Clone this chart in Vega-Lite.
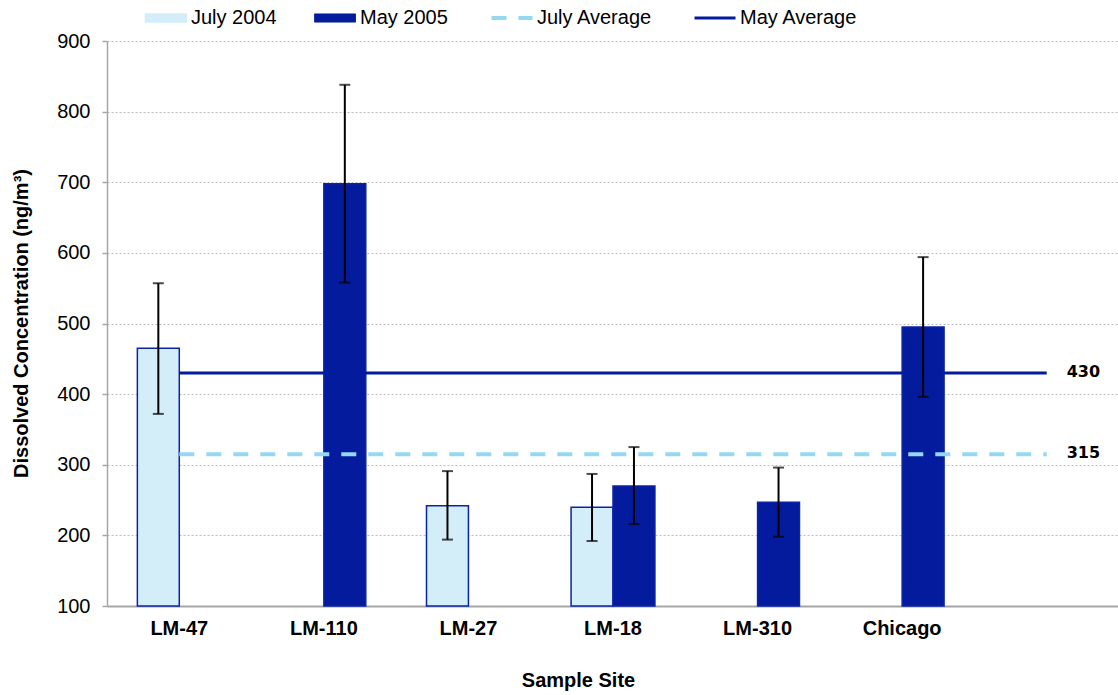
{
  "$schema": "https://vega.github.io/schema/vega-lite/v6.json",
  "width": 1012,
  "height": 565,
  "autosize": {"type": "none"},
  "padding": {"left": 107, "top": 41, "right": 0, "bottom": 89},
  "background": "white",
  "config": {
    "view": {"stroke": null},
    "font": "Liberation Sans",
    "axis": {"labelColor": "black", "titleColor": "black", "labelFontSize": 20, "titleFontSize": 20, "titleFont": "Liberation Sans", "labelFont": "Liberation Sans"}
  },
  "datasets": {
    "bars": [
      {"site": "LM-47", "series": "July 2004", "value": 465, "lo": 372, "hi": 557},
      {"site": "LM-110", "series": "May 2005", "value": 698, "lo": 558, "hi": 838},
      {"site": "LM-27", "series": "July 2004", "value": 242, "lo": 194, "hi": 291},
      {"site": "LM-18", "series": "July 2004", "value": 240, "lo": 192, "hi": 287},
      {"site": "LM-18", "series": "May 2005", "value": 270, "lo": 216, "hi": 325},
      {"site": "LM-310", "series": "May 2005", "value": 247, "lo": 198, "hi": 296},
      {"site": "Chicago", "series": "May 2005", "value": 495, "lo": 396, "hi": 594}
    ],
    "avg": [
      {"site": "LM-47", "series": "July Average", "value": 315},
      {"site": "LM-110", "series": "July Average", "value": 315},
      {"site": "LM-27", "series": "July Average", "value": 315},
      {"site": "LM-18", "series": "July Average", "value": 315},
      {"site": "LM-310", "series": "July Average", "value": 315},
      {"site": "Chicago", "series": "July Average", "value": 315},
      {"site": " ", "series": "July Average", "value": 315},
      {"site": "LM-47", "series": "May Average", "value": 430},
      {"site": "LM-110", "series": "May Average", "value": 430},
      {"site": "LM-27", "series": "May Average", "value": 430},
      {"site": "LM-18", "series": "May Average", "value": 430},
      {"site": "LM-310", "series": "May Average", "value": 430},
      {"site": "Chicago", "series": "May Average", "value": 430},
      {"site": " ", "series": "May Average", "value": 430}
    ],
    "labels": [
      {"site": " ", "series": "May Average", "value": 430, "label": "430"},
      {"site": " ", "series": "July Average", "value": 315, "label": "315"}
    ]
  },
  "encoding": {
    "x": {
      "field": "site",
      "type": "nominal",
      "scale": {"type": "band", "domain": ["LM-47", "LM-110", "LM-27", "LM-18", "LM-310", "Chicago", " "], "paddingInner": 0.42, "paddingOuter": 0.21},
      "axis": {
        "title": "Sample Site",
        "titleFontWeight": "bold",
        "titleX": 471,
        "titleY": 74,
        "titleBaseline": "middle",
        "labelAngle": 0,
        "labelFontWeight": "bold",
        "labelPadding": 12,
        "ticks": false,
        "domainColor": "#a6a6a6",
        "domainWidth": 2,
        "grid": false
      }
    },
    "y": {
      "field": "value",
      "type": "quantitative",
      "scale": {"domain": [100, 900], "zero": false, "nice": false},
      "axis": {
        "title": "Dissolved Concentration (ng/m³)",
        "titleFontWeight": "bold",
        "titleX": -86,
        "titleY": 282,
        "titleAngle": -90,
        "titleBaseline": "middle",
        "titleAlign": "center",
        "values": [100, 200, 300, 400, 500, 600, 700, 800, 900],
        "labelPadding": 12,
        "tickSize": 5,
        "tickColor": "#a6a6a6",
        "tickWidth": 1.5,
        "domainColor": "#a6a6a6",
        "domainWidth": 1.5,
        "gridColor": "#bdbdbd",
        "gridDash": [2, 2],
        "gridWidth": 1
      }
    },
    "color": {
      "field": "series",
      "type": "nominal",
      "scale": {"domain": ["July 2004", "May 2005", "July Average", "May Average"], "range": ["#d4eef9", "#031b9c", "#94d9f1", "#031b9c"]},
      "legend": {
        "title": null,
        "orient": "none",
        "direction": "horizontal",
        "legendX": 49,
        "legendY": -33,
        "padding": 0,
        "labelFontSize": 20,
        "labelColor": "black",
        "labelOffset": 15,
        "columnPadding": 35,
        "symbolSize": 1681,
        "encode": {
          "symbols": {
            "update": {
              "shape": {"signal": "datum.value == 'July 2004' || datum.value == 'May 2005' ? 'M-1,-0.2H1V0.2H-1Z' : 'stroke'"},
              "fill": {"signal": "datum.value == 'July 2004' ? '#d4eef9' : datum.value == 'May 2005' ? '#031b9c' : 'transparent'"},
              "stroke": {"signal": "datum.value == 'July Average' ? '#94d9f1' : datum.value == 'July 2004' ? '#0b24a6' : '#031b9c'"},
              "strokeWidth": {"signal": "datum.value == 'July 2004' ? 1.5 : datum.value == 'May 2005' ? 1 : datum.value == 'July Average' ? 4 : 3"},
              "strokeDash": {"signal": "datum.value == 'July Average' ? [15, 12] : [1, 0]"},
              "opacity": {"value": 1}
            }
          }
        }
      }
    }
  },
  "layer": [
    {
      "data": {"name": "bars"},
      "mark": {"type": "bar", "stroke": "#0b24a6", "strokeWidth": 1.5},
      "encoding": {
        "xOffset": {"field": "series", "type": "nominal", "scale": {"domain": ["July 2004", "May 2005"], "paddingInner": 0, "paddingOuter": 0}},
        "y2": {"datum": 100}
      }
    },
    {
      "data": {"name": "avg"},
      "mark": {"type": "line"},
      "encoding": {
        "strokeDash": {"field": "series", "type": "nominal", "scale": {"domain": ["July Average", "May Average"], "range": [[15, 12], [1, 0]]}, "legend": null},
        "strokeWidth": {"field": "series", "type": "nominal", "scale": {"domain": ["July Average", "May Average"], "range": [4, 3]}, "legend": null},
        "detail": {"field": "series"}
      }
    },
    {
      "data": {"name": "bars"},
      "mark": {"type": "rule", "strokeWidth": 2},
      "encoding": {
        "color": {"value": "black"},
        "xOffset": {"field": "series", "type": "nominal"},
        "y": {"field": "lo", "type": "quantitative"},
        "y2": {"field": "hi"}
      }
    },
    {
      "data": {"name": "bars"},
      "mark": {"type": "tick", "thickness": 2, "size": 11},
      "encoding": {
        "color": {"value": "black"},
        "xOffset": {"field": "series", "type": "nominal"},
        "y": {"field": "lo", "type": "quantitative"}
      }
    },
    {
      "data": {"name": "bars"},
      "mark": {"type": "tick", "thickness": 2, "size": 11},
      "encoding": {
        "color": {"value": "black"},
        "xOffset": {"field": "series", "type": "nominal"},
        "y": {"field": "hi", "type": "quantitative"}
      }
    },
    {
      "data": {"name": "labels"},
      "mark": {"type": "text", "align": "left", "baseline": "middle", "dx": 20, "dy": -1, "font": "DejaVu Sans", "fontWeight": "bold", "fontSize": 16},
      "encoding": {
        "color": {"value": "black"},
        "text": {"field": "label"}
      }
    }
  ]
}
